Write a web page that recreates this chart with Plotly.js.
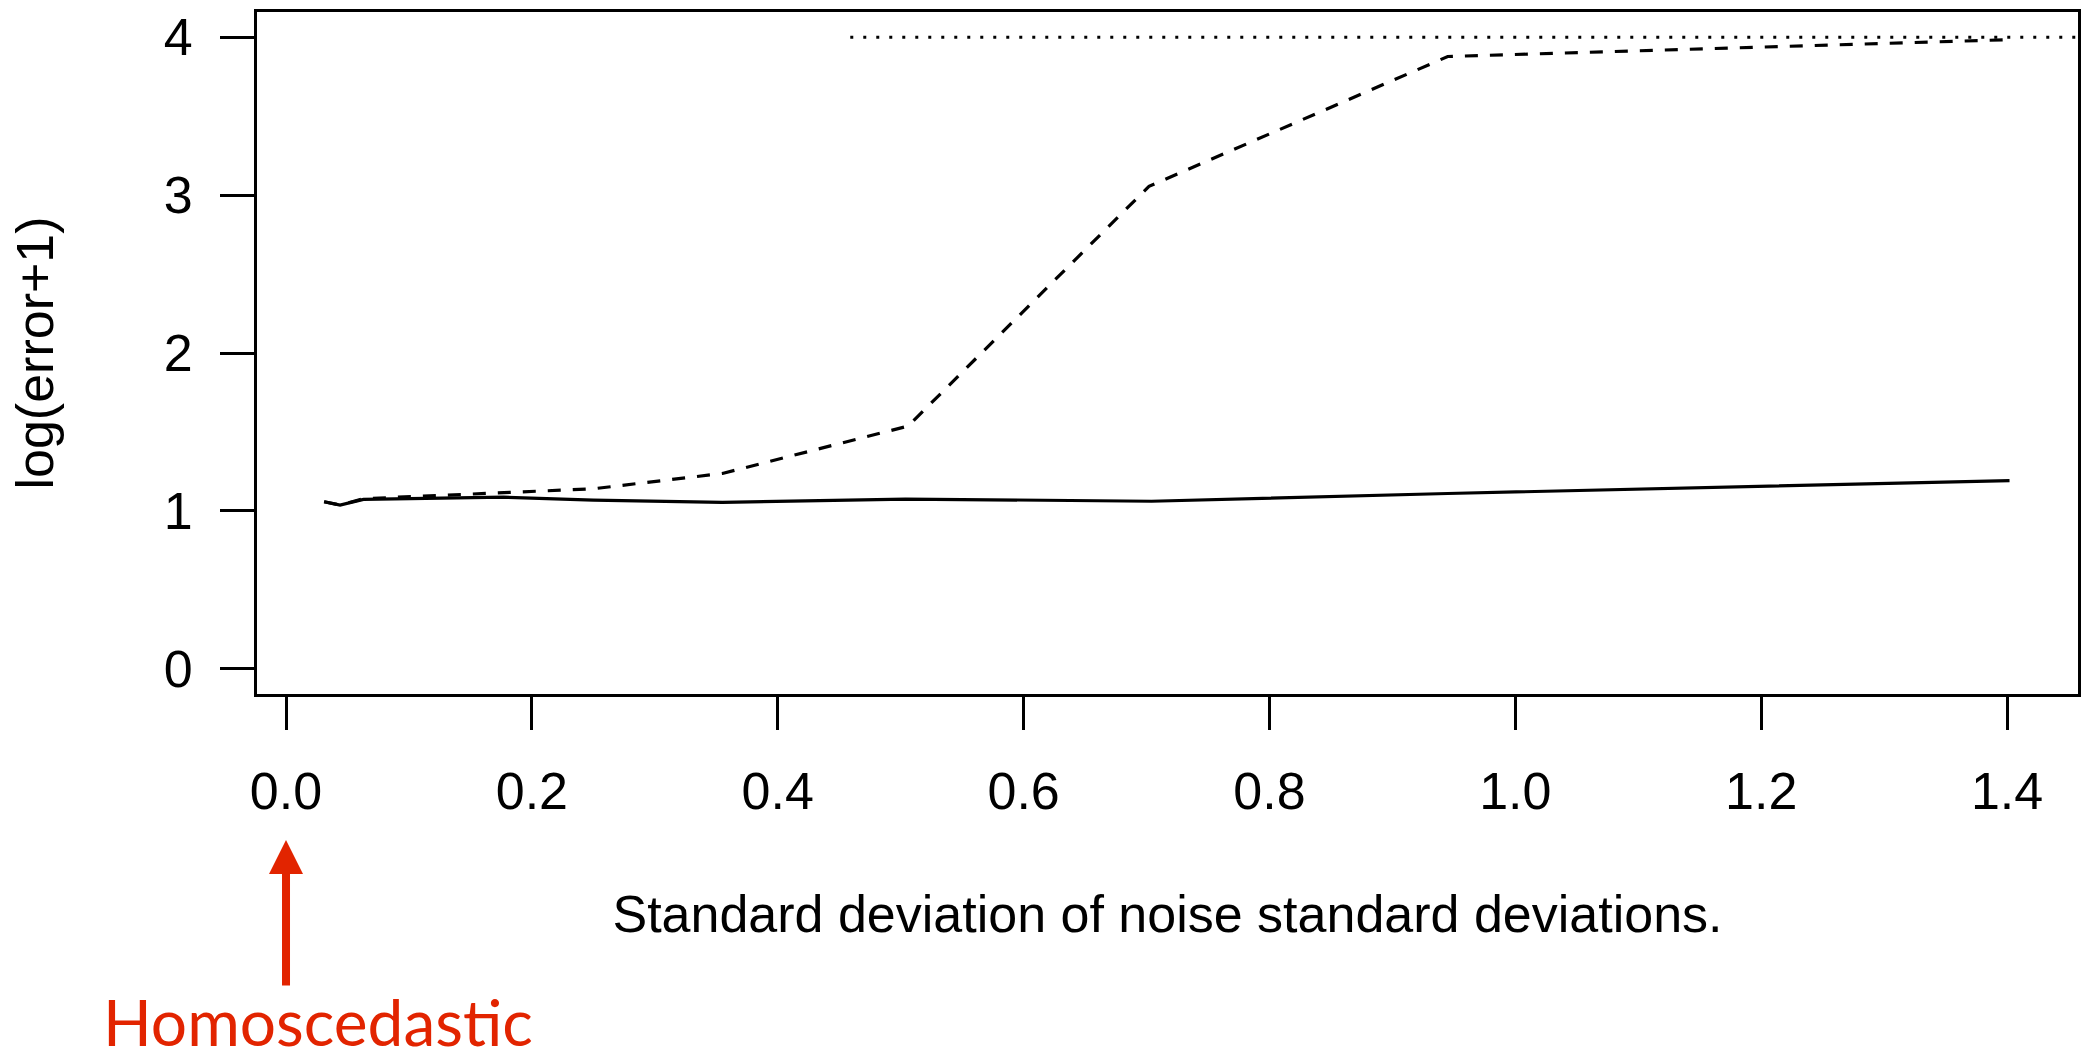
<!DOCTYPE html>
<html>
<head>
<meta charset="utf-8">
<script src="https://cdn.plot.ly/plotly-3.0.1.min.js"></script>
<style>html,body{margin:0;padding:0;background:#fff;}#chart{width:2087px;height:1049px;}</style>
</head>
<body>
<div id="chart"></div>
<script>
// Data
var solidX  = [0.031, 0.044, 0.063, 0.177, 0.250, 0.355, 0.504, 0.704, 0.945, 1.402];
var solidY  = [1.058, 1.037, 1.073, 1.087, 1.068, 1.054, 1.075, 1.061, 1.110, 1.192];
var dashedX = [0.031, 0.044, 0.063, 0.177, 0.250, 0.355, 0.506, 0.702, 0.945, 1.402];
var dashedY = [1.058, 1.037, 1.077, 1.113, 1.140, 1.237, 1.537, 3.056, 3.878, 3.985];
var dottedX = [0.459, 1.46];
var dottedY = [4, 4];
var xTicks = [0, 0.2, 0.4, 0.6, 0.8, 1.0, 1.2, 1.4];
var yTicks = [0, 1, 2, 3, 4];
var xTitle = "Standard deviation of noise standard deviations.";
var yTitle = "log(error+1)";
var noteText = "Homoscedastic";
var noteX = 0;

var FONT = "'Liberation Sans', Arial, Helvetica, sans-serif";
var RED = "#E22400";

var traces = [
  {x: dottedX, y: dottedY, mode: "lines", line: {color: "#000", width: 3, dash: "3px,10px"}, hoverinfo: "skip", showlegend: false},
  {x: dashedX, y: dashedY, mode: "lines", line: {color: "#000", width: 3.2, dash: "13px,12px"}, hoverinfo: "skip", showlegend: false},
  {x: solidX, y: solidY, mode: "lines", line: {color: "#000", width: 3.2}, hoverinfo: "skip", showlegend: false}
];

var layout = {
  width: 2087, height: 1049,
  margin: {l: 257, r: 9, t: 12, b: 355, pad: 0},
  paper_bgcolor: "#fff", plot_bgcolor: "#fff",
  font: {family: FONT, size: 52, color: "#000"},
  showlegend: false,
  xaxis: {
    range: [-0.0236, 1.4577], tickvals: xTicks, tickformat: ".1f",
    showgrid: false, zeroline: false,
    showline: true, mirror: true, linecolor: "#000", linewidth: 3,
    ticks: "outside", ticklen: 33, tickwidth: 3, tickcolor: "#000",
    ticklabelstandoff: 17,
    tickfont: {family: FONT, size: 52, color: "#000"},
    title: {text: xTitle, font: {family: FONT, size: 52, color: "#000"}, standoff: 77},
    automargin: false
  },
  yaxis: {
    range: [-0.16, 4.16], tickvals: yTicks,
    showgrid: false, zeroline: false,
    showline: true, mirror: true, linecolor: "#000", linewidth: 3,
    ticks: "outside", ticklen: 34, tickwidth: 3, tickcolor: "#000",
    ticklabelstandoff: 17,
    tickfont: {family: FONT, size: 52, color: "#000"},
    title: {text: yTitle, font: {family: FONT, size: 52, color: "#000"}, standoff: 94},
    automargin: false
  },
  annotations: [
    {x: noteX, xref: "x", y: -0.2141, yref: "paper", text: "", showarrow: true,
     ax: 0, ay: 147, axref: "pixel", ayref: "pixel",
     arrowcolor: RED, arrowwidth: 8, arrowhead: 2, arrowsize: 0.85, standoff: 0},
    {x: 0.0262, xref: "x", y: -0.4795, yref: "paper", text: noteText, showarrow: false,
     xanchor: "center", yanchor: "middle",
     font: {family: "Lato, 'Open Sans', sans-serif", size: 64, color: RED}}
  ]
};

Plotly.newPlot("chart", traces, layout, {staticPlot: true, displayModeBar: false});
</script>
</body>
</html>
